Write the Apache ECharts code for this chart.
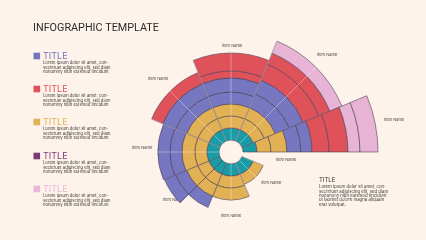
<!DOCTYPE html>
<html>
<head>
<meta charset="utf-8">
<script src="https://cdn.jsdelivr.net/npm/echarts@6/dist/echarts.min.js"></script>
<style>
  html, body { margin: 0; padding: 0; background: #fdf3ea; }
  #chart { width: 426px; height: 240px; }
</style>
</head>
<body>
<div id="chart"></div>
<script>
// 16 half slots of 22.5°, counter-clockwise from 3 o'clock
// 0 R | 1-2 UR | 3-4 T | 5-6 UL | 7-8 L | 9-10 LL | 11-12 B | 13-14 LR | 15 gap
const halfSlots = ["R", "UR1", "UR2", "T1", "T2", "UL1", "UL2", "L1", "L2",
                   "LL1", "LL2", "B1", "B2", "LR1", "LR2", "GAP"];
const sectorSlots = ["UR", "T", "UL", "L", "LL", "B", "LR", "R/GAP"]; // 45° slots from 22.5°

// band thickness per half slot (stacked outward)
const teal    = [14, 12, 12, 12, 12, 12, 12, 12, 12, 12, 12, 12, 12, 12, 12, 0];
const yellowA = [14, 12, 12, 12, 12, 12, 12, 12, 12, 12, 12, 12, 12, 11, 11, 0];
const yellowB = [16, 12, 12, 12, 12, 12, 12, 13, 13, 12, 12, 12, 12, 0, 0, 0];
const purpleA = [14, 15, 15, 12, 12, 12, 12, 12, 12, 12, 12, 0, 0, 0, 0, 0];
const purpleB = [11, 15, 15, 14, 14, 14, 14, 12, 12, 12, 0, 0, 0, 0, 0, 0];
const redA    = [17, 17, 17, 7, 7, 12, 12, 0, 0, 0, 0, 0, 0, 0, 0, 0];
const redB    = [19, 12, 12, 18, 18, 0, 0, 0, 0, 0, 0, 0, 0, 0, 0, 0];
const pinkA   = [12, 13, 13, 0, 0, 0, 0, 0, 0, 0, 0, 0, 0, 0, 0, 0];
const pinkB   = [18, 0, 0, 0, 0, 0, 0, 0, 0, 0, 0, 0, 0, 0, 0, 0];

const itemNames = ["Item Name", "Item Name", "Item Name", "Item Name", "Item Name",
                   "Item Name", "Item Name", "Item Name", "Item Name"];
const legendTitles = ["TITLE", "TITLE", "TITLE", "TITLE", "TITLE"];
const loremShort = ["Lorem ipsum dolor sit amet, con-", "sectetuer adipiscing elit, sed diam",
                    "nonummy nibh euismod tincidunt"];
const loremLong = loremShort.concat(["ut laoreet dolore magna aliquam", "erat volutpat."]);

const TEAL = "#1a9ca7", YELLOW = "#e2b153", PURPLE = "#7677c0", RED = "#e0525a", PINK = "#e8b4d5";
const LEGEND_COLORS = ["#7374be", "#e0525a", "#e2b153", "#7b3b77", "#eab7d7"];
const EDGE = "#4a3f58";
const BG = "#fdf3ea";

const CENTER = [231, 152];
const RADIUS = [12, 148];

const bands = [
  { data: teal, color: TEAL }, { data: yellowA, color: YELLOW }, { data: yellowB, color: YELLOW },
  { data: purpleA, color: PURPLE }, { data: purpleB, color: PURPLE },
  { data: redA, color: RED }, { data: redB, color: RED },
  { data: pinkA, color: PINK }, { data: pinkB, color: PINK },
];

// a 45° slot is drawn whole when both its halves carry the same stack
const whole = sectorSlots.map((_, k) => {
  const a = 2 * k + 1, b = (2 * k + 2) % 16;
  return bands.every((bd) => bd.data[a] === bd.data[b]);
});

const chart = echarts.init(document.getElementById("chart"));

const series = [];
bands.forEach((bd) => {
  const style = { color: bd.color, borderColor: EDGE, borderWidth: 0.6 };
  const full = sectorSlots.map((_, k) => (whole[k] && bd.data[2 * k + 1]) || "-");
  const half = bd.data.map((v, i) => {
    const k = i === 0 ? 7 : Math.floor((i - 1) / 2);
    return !whole[k] && v ? v : "-";
  });
  series.push({
    type: "bar", coordinateSystem: "polar", polarIndex: 0, stack: "full",
    barCategoryGap: "0%", silent: true, itemStyle: style, data: full,
  });
  series.push({
    type: "bar", coordinateSystem: "polar", polarIndex: 1, stack: "half", z: 11,
    barCategoryGap: "0%", silent: true, itemStyle: style, data: half,
  });
});

// item name labels
const namePos = [[394, 120], [327, 55], [232, 46], [158, 79], [142, 148],
                 [173, 200], [231, 216], [271, 183], [286, 160]];
const graphics = [];
itemNames.forEach((n, i) => {
  graphics.push({
    type: "text", x: namePos[i][0], y: namePos[i][1], silent: true,
    style: { text: n, fill: "#444", font: "4px Inter", align: "center", verticalAlign: "middle" },
  });
});

graphics.push({
  type: "text", x: 33, y: 28,
  style: { text: "INFOGRAPHIC TEMPLATE", fill: "#2b2b2b", font: "10.8px Roboto",
           verticalAlign: "middle" },
});

const legendY = [56, 89, 122, 156, 189];
legendTitles.forEach((t, i) => {
  const y = legendY[i];
  graphics.push({ type: "rect", shape: { x: 33.5, y: y - 3.3, width: 6.6, height: 6.6 },
                  style: { fill: LEGEND_COLORS[i] } });
  graphics.push({ type: "text", x: 43, y: y,
                  style: { text: t, fill: LEGEND_COLORS[i], font: "9px Inter", verticalAlign: "middle" } });
  graphics.push({ type: "text", x: 43, y: y + 5,
                  style: { text: loremShort.join("\n"), fill: "#3a3a3a", font: "4.2px Inter",
                           lineHeight: 4.4, verticalAlign: "top" } });
});

graphics.push({ type: "text", x: 319, y: 180,
                style: { text: "TITLE", fill: "#333", font: "6px Inter", verticalAlign: "middle" } });
graphics.push({ type: "text", x: 319, y: 185,
                style: { text: loremLong.join("\n"), fill: "#3a3a3a", font: "4.3px Inter",
                         lineHeight: 4.3, verticalAlign: "top" } });

const option = {
  backgroundColor: BG,
  animation: false,
  polar: [
    { center: CENTER, radius: RADIUS },
    { center: CENTER, radius: RADIUS },
  ],
  angleAxis: [
    { polarIndex: 0, type: "category", data: sectorSlots, startAngle: 22.5,
      clockwise: false, show: false },
    { polarIndex: 1, type: "category", data: halfSlots, startAngle: 0, clockwise: false,
      z: 10,
      axisLine: { show: false }, axisTick: { show: false }, axisLabel: { show: false },
      // light seam down the middle of every 45° sector
      splitLine: { show: true, interval: 1,
                   lineStyle: { color: "rgba(255,255,255,0.5)", width: 0.7 } } },
  ],
  radiusAxis: [
    { polarIndex: 0, type: "value", min: 0, max: 136, show: false },
    { polarIndex: 1, type: "value", min: 0, max: 136, show: false },
  ],
  series: series,
  graphic: graphics,
};

chart.setOption(option);
</script>
</body>
</html>
